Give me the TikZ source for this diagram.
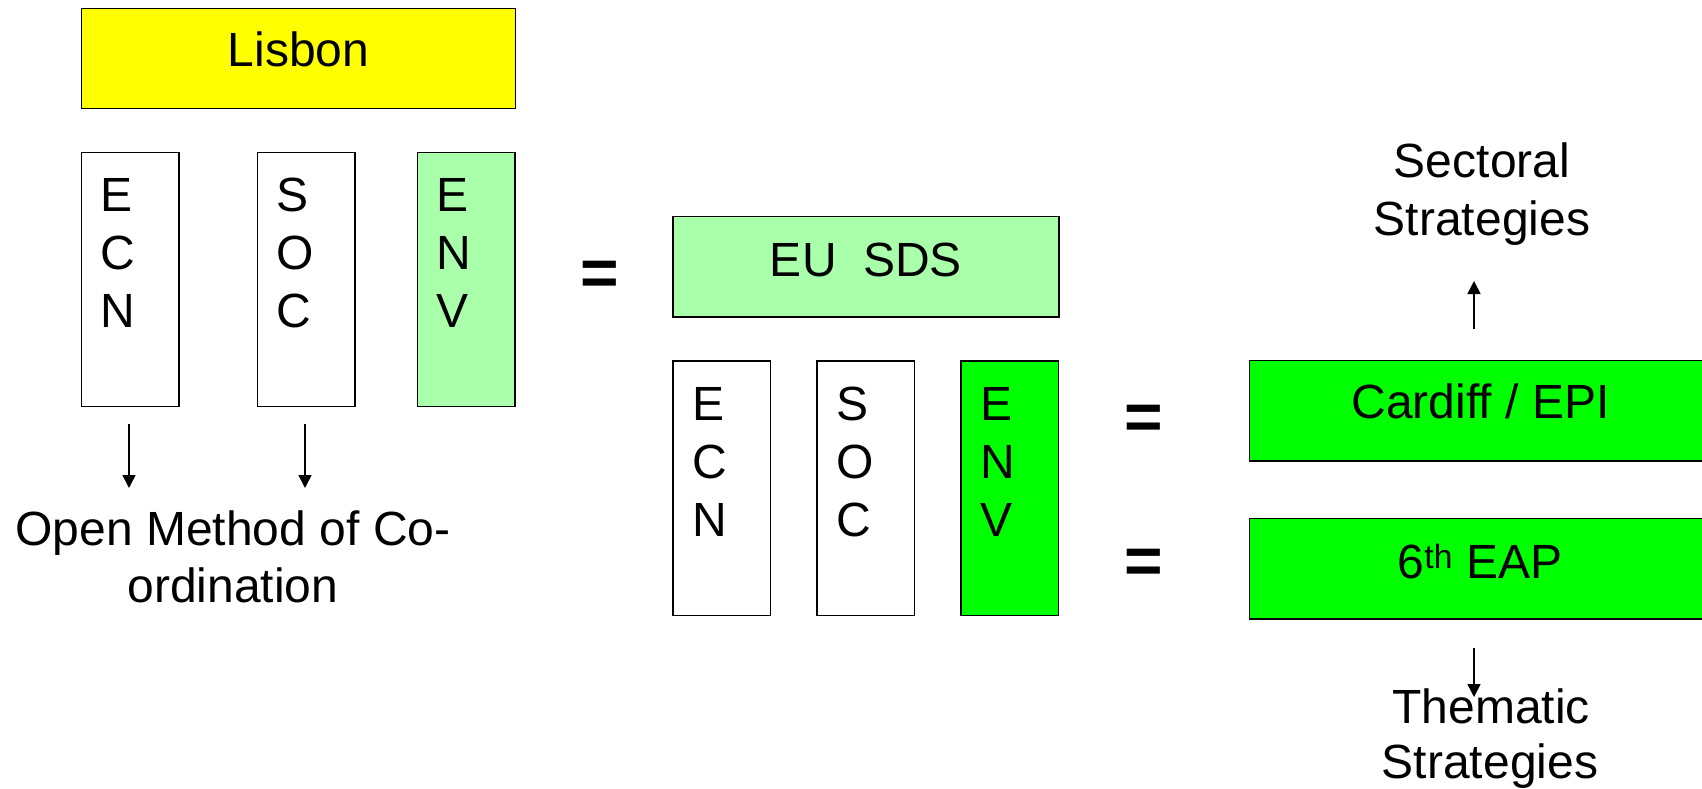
\documentclass[tikz,border=0pt]{standalone}
\usepackage{fontspec}
\setmainfont{Liberation Sans}
\usetikzlibrary{arrows.meta,calc}
\definecolor{lgreen}{RGB}{170,255,170}
\definecolor{bgreen}{RGB}{0,255,0}
\definecolor{yel}{RGB}{255,255,0}
\begin{document}
\begin{tikzpicture}[x=1pt,y=-1pt,
  box/.style={draw=black,line width=1.5pt,rectangle,inner sep=0pt,outer sep=0pt},
  txt/.style={inner sep=0pt,outer sep=0pt,font=\fontsize{48}{57.5}\selectfont},
  eq/.style={inner sep=0pt,outer sep=0pt,font=\fontsize{66}{66}\selectfont\bfseries},
  arr/.style={line width=1.6pt,-{Triangle[length=13pt,width=13pt]}}]
\clip (0,0) rectangle (1702,788);
\useasboundingbox (0,0) rectangle (1702,788);
% left group
\node[box,fill=yel,minimum width=434pt,minimum height=100pt] (lisbon) at (298.4,58.3) {};
\node[txt,anchor=base] (lisbont) at (298.4,66.7) {Lisbon};
\node[box,fill=white,minimum width=97.6pt,minimum height=254.4pt,anchor=north west] (ecn1) at (81.4,152.3) {};
\node[box,fill=white,minimum width=97.6pt,minimum height=254.4pt,anchor=north west] (soc1) at (257.3,152.3) {};
\node[box,fill=lgreen,minimum width=97.6pt,minimum height=254.4pt,anchor=north west] (env1) at (417.4,152.3) {};
% right-middle group
\node[box,fill=lgreen,minimum width=386pt,minimum height=100.5pt,anchor=north west] (sds) at (673,216.5) {};
\node[txt,anchor=base] (sdst) at (866,276) {EU\ \ SDS};
\node[box,fill=white,minimum width=97.6pt,minimum height=254.4pt,anchor=north west] (ecn2) at (673,361) {};
\node[box,fill=white,minimum width=97.6pt,minimum height=254.4pt,anchor=north west] (soc2) at (817,361) {};
\node[box,fill=bgreen,minimum width=97.6pt,minimum height=254.4pt,anchor=north west] (env2) at (961,361) {};
% letters
\foreach \b/\la/\lb/\lc in {ecn1/E/C/N,soc1/S/O/C,env1/E/N/V,ecn2/E/C/N,soc2/S/O/C,env2/E/N/V}{
  \node[txt,anchor=base west] (\b-1) at ($(\b.north west)+(19,59)$) {\la};
  \node[txt,anchor=base west] (\b-2) at ($(\b.north west)+(19,117)$) {\lb};
  \node[txt,anchor=base west] (\b-3) at ($(\b.north west)+(19,175)$) {\lc};
}
% equals
\node[eq,anchor=base] (eq1) at (599.5,295.3) {=};
\node[eq,anchor=base] (eq2) at (1144,439.3) {=};
\node[eq,anchor=base] (eq3) at (1144,583.5) {=};
% right boxes
\node[box,fill=bgreen,minimum width=470pt,minimum height=100.5pt,anchor=north west] (cardiff) at (1249.5,360.5) {};
\node[txt,anchor=base] (cardifft) at (1480.5,418) {Cardiff / EPI};
\node[box,fill=bgreen,minimum width=470pt,minimum height=100.5pt,anchor=north west] (eap) at (1249.5,518.5) {};
\node[txt,anchor=base] (eapt) at (1480,578) {6\textsuperscript{th} EAP};
% labels
\node[txt,anchor=base] (omc1) at (233,545) {Open Method of Co-};
\node[txt,anchor=base] (omc2) at (233,602) {ordination};
\node[txt,anchor=base] (sect1) at (1482,177) {Sectoral};
\node[txt,anchor=base] (sect2) at (1482,235) {Strategies};
\node[txt,anchor=base] (them1) at (1491,723) {Thematic};
\node[txt,anchor=base] (them2) at (1490,778) {Strategies};
% arrows
\coordinate (a1s) at (129,424); \coordinate (a1e) at (129,488);
\coordinate (a2s) at (305,424); \coordinate (a2e) at (305,488);
\coordinate (a3s) at (1474,329); \coordinate (a3e) at (1474,281);
\coordinate (a4s) at (1474,648); \coordinate (a4e) at (1474,697);
\draw[arr] (a1s) -- (a1e);
\draw[arr] (a2s) -- (a2e);
\draw[arr] (a3s) -- (a3e);
\draw[arr] (a4s) -- (a4e);
\end{tikzpicture}
\end{document}
